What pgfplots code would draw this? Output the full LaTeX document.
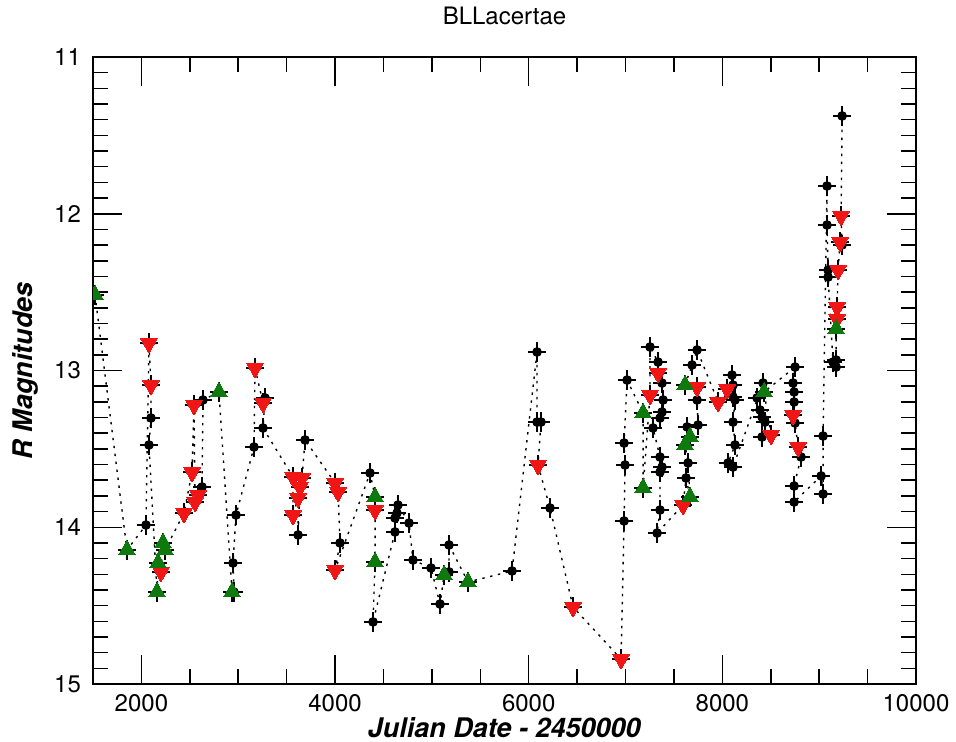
\documentclass[border=0pt]{standalone}
\usepackage{pgfplots}
\pgfplotsset{compat=1.18}
\usepackage{pgfplotstable}
\usepackage{fontspec}
\setmainfont{TeX Gyre Heros}
\definecolor{myred}{RGB}{240,22,22}
\definecolor{mygreen}{RGB}{14,122,14}

\pgfplotstableread{
x y c
1521 12.518 2
1851 14.145 2
2047 13.986 0
2078 12.825 1
2099 13.093 1
2099 13.303 0
2078 13.475 0
2161 14.413 2
2171 14.228 2
2202 14.285 1
2223 14.100 2
2244 14.145 2
2440 13.909 1
2523 13.648 1
2543 13.220 1
2554 13.839 1
2585 13.794 1
2626 13.743 0
2636 13.188 0
2801 13.137 2
2936 14.413 2
2956 14.413 0
2946 14.228 0
2977 13.922 0
3163 13.488 0
3173 12.984 1
3256 13.207 1
3277 13.175 0
3256 13.367 0
3566 13.679 1
3566 13.922 1
3618 13.813 1
3618 14.049 0
3638 13.743 1
3659 13.686 1
3690 13.443 0
4000 13.718 1
4031 13.775 1
4051 14.100 0
4000 14.273 1
4361 13.654 0
4413 13.807 2
4413 13.890 1
4413 14.222 2
4392 14.604 0
4619 14.030 0
4619 13.941 0
4640 13.909 0
4650 13.858 0
4764 13.973 0
4805 14.209 0
4991 14.260 0
5084 14.490 0
5126 14.305 2
5177 14.285 0
5177 14.113 0
5373 14.349 2
5828 14.279 0
6086 12.882 0
6086 13.329 0
6127 13.329 0
6096 13.603 1
6220 13.877 0
6458 14.509 1
6954 14.841 1
6985 13.960 0
6995 13.603 0
6985 13.463 0
7016 13.061 0
7181 13.271 2
7181 13.750 2
7253 13.156 1
7253 12.850 0
7336 12.946 0
7336 13.016 1
7377 13.080 0
7388 13.188 0
7377 13.265 0
7356 13.303 0
7284 13.367 0
7356 13.552 0
7377 13.616 0
7356 13.648 0
7356 13.890 0
7326 14.037 0
7594 13.858 1
7625 13.686 0
7666 13.807 2
7646 13.590 0
7615 13.475 2
7666 13.424 2
7636 13.360 0
7749 13.348 0
7739 13.188 0
7739 13.105 1
7615 13.093 2
7687 12.965 0
7739 12.869 0
7956 13.201 1
8049 13.118 1
8100 13.029 0
8110 13.093 0
8110 13.169 0
8131 13.188 0
8110 13.329 0
8131 13.475 0
8059 13.590 0
8110 13.616 0
8420 13.080 0
8358 13.175 0
8389 13.252 0
8410 13.297 0
8441 13.329 0
8410 13.424 0
8503 13.411 1
8431 13.137 2
8751 12.978 0
8730 13.080 0
8741 13.137 0
8741 13.201 0
8730 13.284 1
8751 13.335 0
8782 13.488 1
8813 13.552 0
8741 13.737 0
8741 13.839 0
9020 13.673 0
9040 13.788 0
9040 13.418 0
9081 11.823 0
9081 12.072 0
9092 12.359 0
9092 12.404 0
9143 12.946 0
9175 12.978 0
9175 12.933 0
9175 12.735 2
9185 12.671 1
9185 12.595 1
9195 12.359 1
9216 12.180 1
9237 12.199 0
9226 12.014 1
9237 11.376 0
}\lc

\begin{document}
\begin{tikzpicture}
\path[use as bounding box] (0,0) rectangle (478pt,371pt);
\begin{axis}[
  at={(46.5pt,29pt)}, anchor=south west,
  scale only axis, width=411.5pt, height=313.5pt,
  xmin=1500, xmax=10000, ymin=11, ymax=15, y dir=reverse,
  xtick={2000,4000,6000,8000,10000}, ytick={11,12,13,14,15},
  scaled x ticks=false, scaled y ticks=false,
  minor x tick num=3, minor y tick num=9,
  major tick length=14.5pt, minor tick length=7.5pt,
  tick align=inside,
  clip marker paths=true,
  axis line style={line width=0.75pt},
  every tick/.style={black, line width=0.75pt},
  /pgf/number format/assume math mode=true,
  /pgf/number format/1000 sep={},
  xticklabel={\pgfmathprintnumber[fixed,precision=0,1000 sep={}]{\tick}},
  ticklabel style={font=\fontsize{12}{14}\selectfont},
  xticklabel style={yshift=-1.5pt},
  yticklabel style={xshift=-2.5pt},
  title={BLLacertae},
  title style={at={(axis description cs:0.5,1.047)}, anchor=center, font=\fontsize{12}{14}\selectfont},
  xlabel={\textbf{\textit{Julian Date - 2450000}}},
  xlabel style={at={(axis description cs:0.5,-0.070)}, anchor=center, font=\fontsize{13.5}{15}\selectfont},
  ylabel={\textbf{\textit{R Magnitudes}}},
  ylabel style={at={(axis description cs:-0.082,0.5)}, anchor=center, font=\fontsize{13.5}{15}\selectfont},
]
\addplot[black, line width=0.7pt, dash pattern=on 1.2pt off 2.8pt, mark=none] table[x=x,y=y]{\lc};
\addplot[only marks, mark=none, black,
  error bars/.cd, x dir=both, x fixed=95, y dir=both, y fixed=0.064,
  error mark=none, error bar style={line width=1pt, black, solid}]
  table[x=x,y=y]{\lc};
\addplot[only marks, mark=*, mark size=2.2pt, black, restrict expr to domain={\thisrow{c}}{-0.5:0.5}] table[x=x,y=y]{\lc};
\addplot[only marks, myred, mark=triangle*, mark size=4.9pt, mark options={rotate=180, solid, fill=myred, draw=myred, line width=0pt}, restrict expr to domain={\thisrow{c}}{0.5:1.5}] table[x=x,y=y]{\lc};
\addplot[only marks, mygreen, mark=triangle*, mark size=4.9pt, mark options={solid, fill=mygreen, draw=mygreen, line width=0pt}, restrict expr to domain={\thisrow{c}}{1.5:2.5}] table[x=x,y=y]{\lc};
\end{axis}
\end{tikzpicture}
\end{document}
